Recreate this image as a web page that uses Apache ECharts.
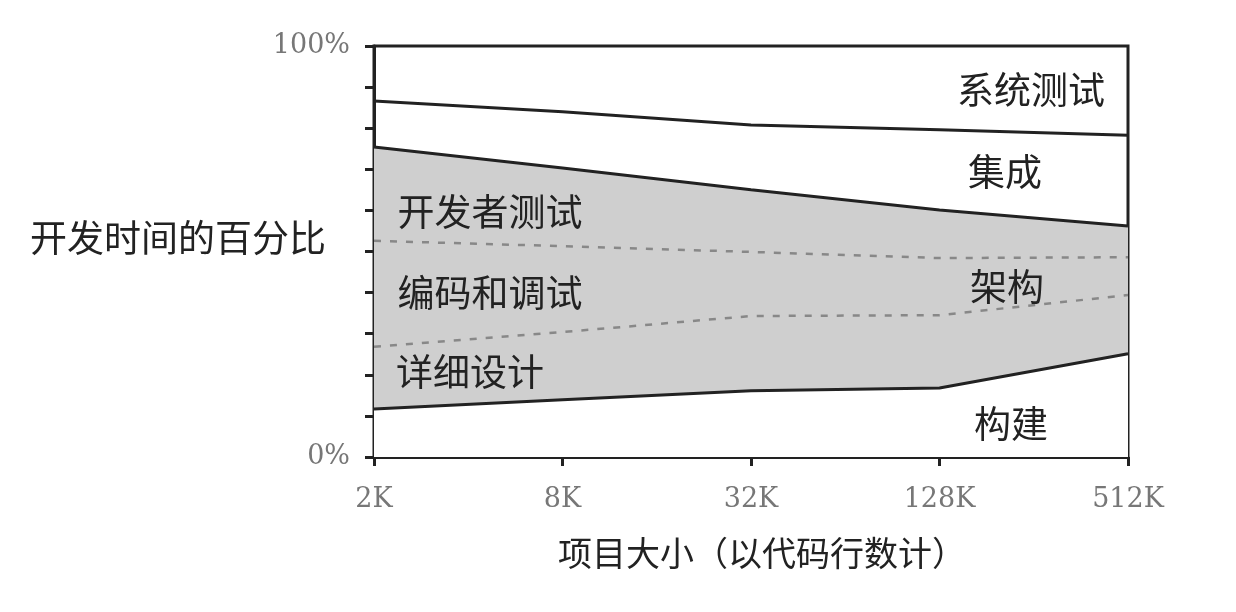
<!DOCTYPE html>
<html><head><meta charset="utf-8">
<script src="https://cdn.jsdelivr.net/npm/echarts@6/dist/echarts.min.js"></script>
<style>html,body{margin:0;padding:0;background:#fff}#c{width:1236px;height:612px}</style>
</head><body><div id="c"></div>
<script>
// Project size categories
const categories = ['2K', '8K', '32K', '128K', '512K'];
// Boundary lines (cumulative % of development time)
const systemTestBoundary = [86.6, 84.0, 80.8, 79.6, 78.3];      // top of 集成 / bottom of 系统测试
const integrationBoundary = [75.4, 70.3, 65.0, 60.1, 56.2];     // top of gray area
const devTestBoundary = [52.6, 51.3, 49.9, 48.4, 48.6];         // dashed: 开发者测试 / 编码和调试
const designBoundary = [26.8, 30.4, 34.3, 34.5, 39.4];          // dashed: 编码和调试 / 详细设计
const constructionBoundary = [11.7, 13.9, 16.1, 16.8, 25.1];    // bottom of gray area
const yTickLabels = {0: '0%', 100: '100%'};
const yName = '开发时间的百分比';
const xName = '项目大小（以代码行数计）';
const regionLabels = [
  {text: '系统测试', x: 1031, y: 90},
  {text: '集成', x: 1005, y: 172},
  {text: '开发者测试', x: 490, y: 212},
  {text: '编码和调试', x: 490, y: 293},
  {text: '架构', x: 1007, y: 287},
  {text: '详细设计', x: 470, y: 372},
  {text: '构建', x: 1011, y: 424}
];

const cjk = '"Noto Sans CJK SC", sans-serif';
const dark = '#222';
const tickFont = '"DejaVu Serif", serif';
const chart = echarts.init(document.getElementById('c'), null, {renderer: 'canvas'});
chart.setOption({
  animation: false,
  backgroundColor: '#fff',
  grid: {left: 374, right: 108, top: 46, bottom: 155, show: true, borderColor: dark, borderWidth: 3, backgroundColor: '#fff'},
  xAxis: {
    type: 'category', data: categories, boundaryGap: false,
    axisLine: {lineStyle: {color: dark, width: 3}},
    axisTick: {show: true, length: 9, inside: false, lineStyle: {color: dark, width: 3}},
    axisLabel: {color: '#777', fontFamily: tickFont, fontSize: 27, margin: 29},
    splitLine: {show: false},
    name: xName, nameLocation: 'middle', nameGap: 79, nameMoveOverlap: false,
    nameTextStyle: {fontFamily: cjk, fontSize: 34, color: dark, padding: [0, 0, 0, 22]}
  },
  yAxis: {
    type: 'value', min: 0, max: 100, interval: 10,
    axisLine: {show: true, lineStyle: {color: dark, width: 3}},
    axisTick: {show: true, length: 9, lineStyle: {color: dark, width: 3}},
    axisLabel: {color: '#777', fontFamily: tickFont, fontSize: 27, margin: 24,
      formatter: v => yTickLabels[v] !== undefined ? yTickLabels[v] : ''},
    splitLine: {show: false},
    name: yName, nameLocation: 'middle', nameGap: 48, nameRotate: 0, nameMoveOverlap: false,
    nameTextStyle: {fontFamily: cjk, fontSize: 37, color: dark, verticalAlign: 'bottom', lineHeight: 27}
  },
  series: [
    {name: '集成上界', type: 'line', data: integrationBoundary, symbol: 'none',
      lineStyle: {color: dark, width: 3}, areaStyle: {color: '#cfcfcf', opacity: 1}, z: 2},
    {name: '构建上界', type: 'line', data: constructionBoundary, symbol: 'none',
      lineStyle: {color: dark, width: 3}, areaStyle: {color: '#fff', opacity: 1}, z: 3},
    {name: '开发者测试下界', type: 'line', data: devTestBoundary, symbol: 'none',
      lineStyle: {color: '#888', width: 2.5, type: [7, 9]}, z: 4},
    {name: '详细设计上界', type: 'line', data: designBoundary, symbol: 'none',
      lineStyle: {color: '#888', width: 2.5, type: [7, 9]}, z: 4},
    {name: '系统测试下界', type: 'line', data: systemTestBoundary, symbol: 'none',
      lineStyle: {color: dark, width: 3}, z: 5}
  ],
  graphic: regionLabels.map(l => ({
    type: 'text', x: l.x, y: l.y, z: 100,
    style: {text: l.text, fill: dark, font: '37px ' + cjk, textAlign: 'center', textVerticalAlign: 'middle'}
  }))
});
</script></body></html>
